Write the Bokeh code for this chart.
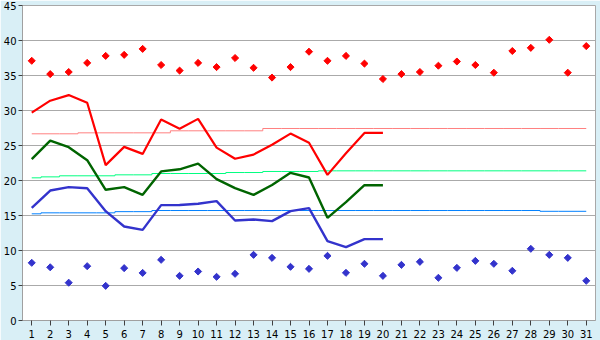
import math
from bokeh.plotting import figure
from bokeh.models import Range1d, FixedTicker
from bokeh.embed import file_html
from bokeh.resources import INLINE

days = list(range(1, 32))
line_days = list(range(1, 21))

# daily extremes (diamonds)
max_pts = [37.1, 35.2, 35.5, 36.8, 37.8, 37.95, 38.8, 36.5, 35.7, 36.8, 36.2, 37.5, 36.1, 34.7,
           36.2, 38.4, 37.1, 37.8, 36.7, 34.5, 35.2, 35.5, 36.4, 37.0, 36.5, 35.4, 38.5, 38.95,
           40.1, 35.4, 39.2]
min_pts = [8.24, 7.6, 5.4, 7.76, 4.95, 7.48, 6.8, 8.67, 6.38, 7.0, 6.24, 6.67, 9.38, 8.95,
           7.67, 7.38, 9.24, 6.81, 8.1, 6.38, 7.95, 8.38, 6.1, 7.52, 8.52, 8.1, 7.1, 10.24,
           9.38, 8.95, 5.67]

# observed series (days 1-20)
tmax = [29.7, 31.4, 32.2, 31.1, 22.2, 24.8, 23.8, 28.7, 27.4, 28.8, 24.7, 23.1, 23.7, 25.1,
        26.7, 25.4, 20.8, 23.9, 26.8, 26.8]
tmean = [23.05, 25.7, 24.76, 22.9, 18.67, 19.05, 17.95, 21.3, 21.6, 22.4, 20.2, 18.9, 17.95,
         19.35, 21.1, 20.43, 14.67, 16.9, 19.33, 19.33]
tmin = [16.1, 18.57, 19.05, 18.9, 15.62, 13.43, 12.95, 16.48, 16.5, 16.67, 17.05, 14.29, 14.43,
        14.19, 15.62, 16.05, 11.33, 10.48, 11.62, 11.62]

# normals (31 days)
nmax = [26.67] * 3 + [26.81] * 5 + [27.1] * 5 + [27.43] * 18
nmean = [20.38] + [20.52] + [20.67] * 3 + [20.81] * 2 + [21.0] * 4 + [21.14] * 2 + [21.29] * 3 + [21.38] * 15
nmin = [15.24] + [15.38] * 4 + [15.55] * 2 + [15.71] * 21 + [15.6] * 3

y_ticks = list(range(0, 50, 5))

p = figure(width=600, height=340, output_backend="svg", toolbar_location=None,
           x_range=Range1d(0.5, 31.5), y_range=Range1d(0, 45),
           min_border_left=20, min_border_right=5, min_border_top=5, min_border_bottom=20)
p.background_fill_color = "white"
p.border_fill_color = "#d9eff6"
p.outline_line_color = "#a8a8a8"

p.xgrid.grid_line_color = None
p.ygrid.grid_line_color = "#aaaaaa"
p.ygrid.ticker = FixedTicker(ticks=y_ticks)

for ax in (p.xaxis[0], p.yaxis[0]):
    ax.axis_line_color = "#a0a0a0"
    ax.major_tick_line_color = "#404040"
    ax.minor_tick_line_color = None
    ax.major_tick_in = 0
    ax.major_tick_out = 5
    ax.major_label_text_font = "DejaVu Sans"
    ax.major_label_text_font_size = "10px"
    ax.major_label_text_color = "black"
p.xaxis.ticker = FixedTicker(ticks=days)
p.yaxis.ticker = FixedTicker(ticks=y_ticks)
p.xaxis.major_label_standoff = 4
p.yaxis.major_label_standoff = 2
p.yaxis.major_tick_out = 4

# normals as centered steps
p.step(days, nmax, mode="center", line_color="#ff8080", line_width=1)
p.step(days, nmean, mode="center", line_color="#00ff80", line_width=1)
p.step(days, nmin, mode="center", line_color="#0080ff", line_width=1)

# observed lines
p.line(line_days, tmax, line_color="#ff0000", line_width=2.2)
p.line(line_days, tmean, line_color="#006400", line_width=2.4)
p.line(line_days, tmin, line_color="#3333cc", line_width=2.4)

# extremes
p.scatter(days, max_pts, marker="square", size=5, angle=math.pi / 4,
          fill_color="#ff0000", line_color="#ff0000", line_width=1)
p.scatter(days, min_pts, marker="square", size=5, angle=math.pi / 4,
          fill_color="#3333cc", line_color="#3333cc", line_width=1)

open("out.html", "w").write(file_html(p, INLINE))
